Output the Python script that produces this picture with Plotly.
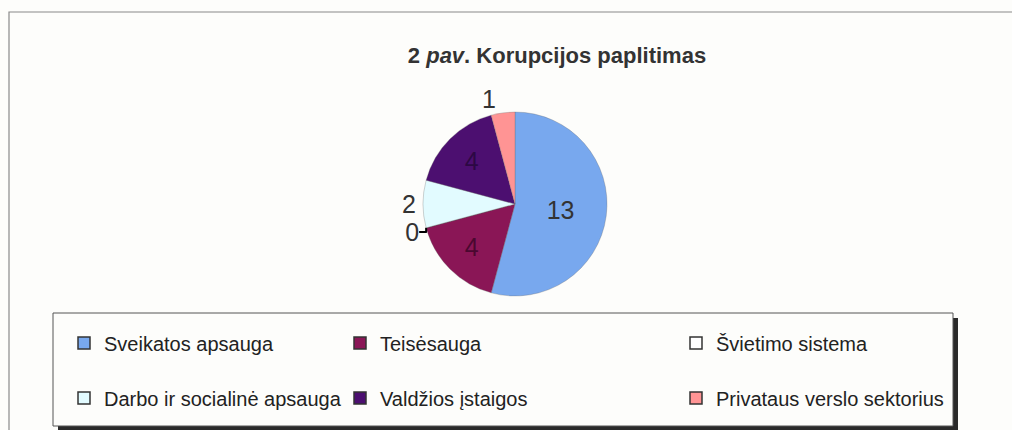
import plotly.graph_objects as go

categories = ["Sveikatos apsauga", "Teisėsauga", "Švietimo sistema",
              "Darbo ir socialinė apsauga", "Valdžios įstaigos", "Privataus verslo sektorius"]
values = [13, 4, 0, 2, 4, 1]
colors = ["#78a8ee", "#8a1656", "#ffffff", "#e2fbff", "#4c0f70", "#ff9494"]
text_positions = ["inside", "inside", "outside", "outside", "inside", "outside"]
text_colors = ["#333333", "#4a0830", "#333333", "#333333", "#2c0844", "#333333"]
title_text = "<b>2 <i>pav</i>. Korupcijos paplitimas</b>"

W, H = 1012, 430
def px(x): return x / W
def py(y): return 1 - y / H

fig = go.Figure()
fig.add_trace(go.Pie(
    labels=categories, values=values, sort=False, direction="clockwise", rotation=0,
    marker=dict(colors=colors, line=dict(color="#666666", width=0.3)),
    textinfo="value", textposition=text_positions,
    textfont=dict(family="Liberation Sans, Arial", size=25, color=text_colors),
    insidetextorientation="horizontal",
    domain=dict(x=[px(423), px(607)], y=[py(296), py(112)]),
    showlegend=False, hoverinfo="label+value",
))

# legend entries (3 columns x 2 rows)
col_text_x = [104, 380, 716]
row_y = [343, 398]
layout_legends = {}
for i, (name, c) in enumerate(zip(categories, colors)):
    key = "legend" if i == 0 else f"legend{i+1}"
    fig.add_trace(go.Scatter(
        x=[None], y=[None], mode="markers", name=name, legend=key,
        marker=dict(symbol="square", size=12, color=c, line=dict(color="#333333", width=1.5)),
    ))
    col, row = i % 3, i // 3
    layout_legends[key] = dict(
        x=px(col_text_x[col] - 40), xanchor="left",
        y=py(row_y[row]), yanchor="middle",
        bgcolor="rgba(0,0,0,0)", borderwidth=0,
        font=dict(family="Liberation Sans, Arial", size=20, color="#222222"),
        itemclick=False,
    )

shapes = [
    # outer chart border
    dict(type="rect", xref="paper", yref="paper", x0=px(9), x1=px(1030), y0=py(460), y1=py(12),
         line=dict(color="#8a8a8a", width=1.2)),
    # legend shadow
    dict(type="rect", xref="paper", yref="paper", x0=px(58), x1=px(958), y0=py(431), y1=py(318),
         line=dict(width=0), fillcolor="#2a2a2a"),
    # legend box
    dict(type="rect", xref="paper", yref="paper", x0=px(53), x1=px(953), y0=py(426), y1=py(313),
         line=dict(color="#555555", width=1), fillcolor="#fdfdfb"),
]

fig.update_layout(
    width=W, height=H, margin=dict(l=0, r=0, t=0, b=0),
    paper_bgcolor="#fdfdfb", plot_bgcolor="#fdfdfb",
    title=dict(text=title_text, x=px(557), xanchor="center", y=py(55), yanchor="middle",
               font=dict(family="Liberation Sans, Arial", size=22, color="#333333")),
    xaxis=dict(visible=False), yaxis=dict(visible=False),
    shapes=shapes,
    **layout_legends,
)

fig.write_html("out.html", config={"displayModeBar": False},
               post_script="document.body.style.margin='0';")
